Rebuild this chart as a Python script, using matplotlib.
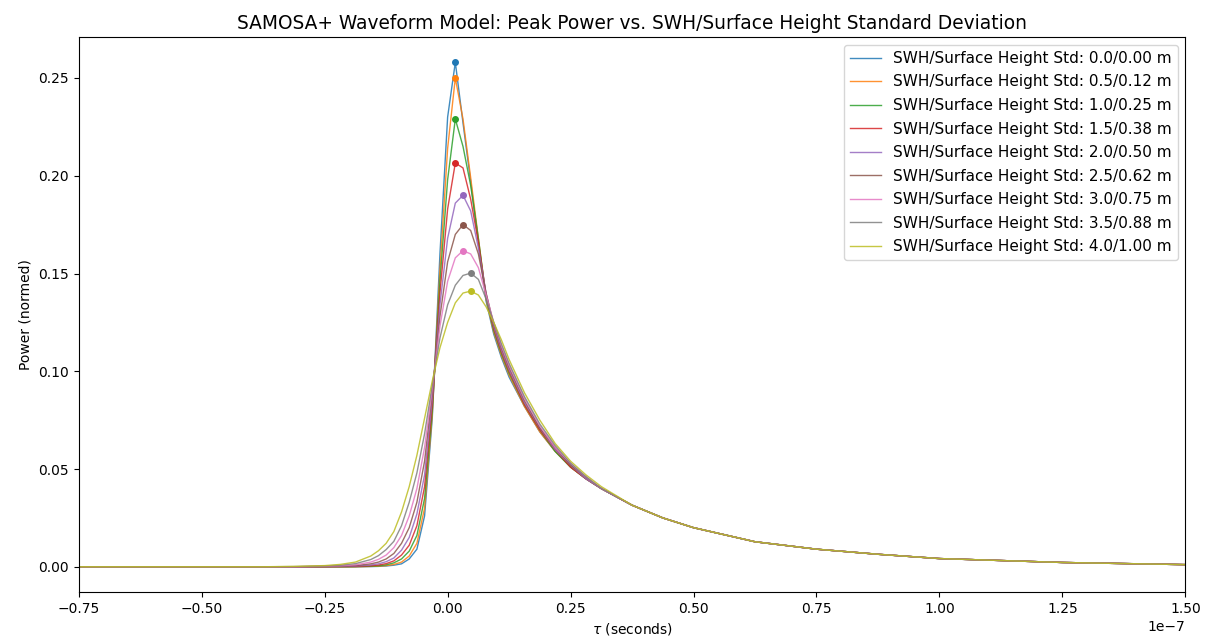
import numpy as np
import matplotlib
matplotlib.use('Agg')
import matplotlib.pyplot as plt

# delay axis (ns), sampled on the 1.5625 ns grid near the leading edge
tau_ns = [-75, -37.5, -31.25, -25, -21.875, -18.75, -15.625, -14.0625, -12.5,
          -10.9375, -9.375, -7.8125, -6.25, -4.6875, -3.125, -1.5625, 0,
          1.5625, 3.125, 4.6875, 6.25, 7.8125, 9.375, 10.9375, 12.5, 15.625,
          18.75, 21.875, 25, 28.125, 31.25,
          37.5, 43.75, 50, 62.5, 75, 87.5, 100, 125, 150]

swh = [0.0, 0.5, 1.0, 1.5, 2.0, 2.5, 3.0, 3.5, 4.0]
surf_std = [0.00, 0.12, 0.25, 0.38, 0.50, 0.62, 0.75, 0.88, 1.00]

# leading edge + peak + early trailing edge (tau from -75 to 31.25 ns)
p_swh00 = [0, 0, 0, 0, 0, 0, 0.0001, 0.0002, 0.0004, 0.0008, 0.0015, 0.004,
           0.009, 0.026, 0.076, 0.160, 0.230, 0.258, 0.227, 0.197, 0.166,
           0.136, 0.119, 0.107, 0.097, 0.082, 0.069, 0.059, 0.051, 0.045, 0.040]
p_swh05 = [0, 0, 0, 0, 0, 0, 0.0002, 0.0003, 0.0006, 0.0012, 0.0024, 0.0055,
           0.012, 0.030, 0.078, 0.152, 0.214, 0.250, 0.229, 0.199, 0.168,
           0.137, 0.120, 0.108, 0.098, 0.082, 0.069, 0.059, 0.051, 0.045, 0.040]
p_swh10 = [0, 0, 0, 0, 0, 0.0001, 0.0003, 0.0005, 0.0010, 0.0020, 0.0040, 0.008,
           0.016, 0.035, 0.080, 0.146, 0.198, 0.229, 0.215, 0.195, 0.168,
           0.138, 0.121, 0.109, 0.099, 0.083, 0.070, 0.059, 0.051, 0.045, 0.040]
p_swh15 = [0, 0, 0, 0, 0.0001, 0.0002, 0.0005, 0.0009, 0.0016, 0.0030, 0.0060, 0.011,
           0.021, 0.041, 0.083, 0.140, 0.183, 0.2065, 0.204, 0.188, 0.166,
           0.139, 0.122, 0.110, 0.100, 0.083, 0.070, 0.060, 0.051, 0.045, 0.040]
p_swh20 = [0, 0, 0, 0.0001, 0.0002, 0.0004, 0.0009, 0.0015, 0.0026, 0.0045, 0.0085, 0.015,
           0.027, 0.047, 0.086, 0.134, 0.168, 0.186, 0.190, 0.182, 0.163,
           0.140, 0.123, 0.111, 0.101, 0.084, 0.071, 0.060, 0.052, 0.045, 0.040]
p_swh25 = [0, 0, 0, 0.0002, 0.0003, 0.0006, 0.0015, 0.0024, 0.0040, 0.0068, 0.012, 0.020,
           0.033, 0.054, 0.089, 0.128, 0.156, 0.170, 0.175, 0.172, 0.160,
           0.140, 0.124, 0.112, 0.102, 0.085, 0.071, 0.061, 0.052, 0.046, 0.040]
p_swh30 = [0, 0, 0, 0.0003, 0.0005, 0.0010, 0.0024, 0.0038, 0.0060, 0.0098, 0.016, 0.026,
           0.040, 0.061, 0.091, 0.123, 0.146, 0.158, 0.1617, 0.160, 0.153,
           0.139, 0.125, 0.113, 0.103, 0.086, 0.072, 0.061, 0.053, 0.046, 0.040]
p_swh35 = [0, 0, 0.0001, 0.0004, 0.0008, 0.0016, 0.0037, 0.0057, 0.0088, 0.013, 0.021, 0.033,
           0.048, 0.068, 0.093, 0.117, 0.134, 0.144, 0.149, 0.1502, 0.147,
           0.137, 0.125, 0.114, 0.104, 0.087, 0.073, 0.062, 0.053, 0.046, 0.040]
p_swh40 = [0, 0, 0.0002, 0.0006, 0.0012, 0.0024, 0.0055, 0.0082, 0.012, 0.018, 0.028, 0.041,
           0.057, 0.076, 0.095, 0.112, 0.125, 0.135, 0.140, 0.141, 0.139,
           0.133, 0.125, 0.116, 0.106, 0.089, 0.075, 0.063, 0.054, 0.047, 0.041]

# trailing tail (37.5 ns onwards), all curves coincide here
p_tail = [0.0315, 0.025, 0.020, 0.0128, 0.0090, 0.0064, 0.0042, 0.0022, 0.0011]

waveforms = [p_swh00, p_swh05, p_swh10, p_swh15, p_swh20,
             p_swh25, p_swh30, p_swh35, p_swh40]

tau = np.array(tau_ns) * 1e-9

fig, ax = plt.subplots(figsize=(12.12, 6.4), dpi=100)
colors = plt.rcParams['axes.prop_cycle'].by_key()['color']

for i, wf in enumerate(waveforms):
    p = np.array(wf + p_tail)
    c = colors[i % len(colors)]
    ax.plot(tau, p, color=c, lw=1.0, alpha=0.85,
            label='SWH/Surface Height Std: %.1f/%.2f m' % (swh[i], surf_std[i]))
    # mark the peak of each waveform
    j = np.argmax(p)
    ax.plot(tau[j], p[j], 'o', color=c, ms=4)

ax.set_xlim(-0.75e-7, 1.5e-7)
ax.set_xlabel(r'$\tau$ (seconds)')
ax.set_ylabel('Power (normed)')
ax.set_title('SAMOSA+ Waveform Model: Peak Power vs. SWH/Surface Height Standard Deviation',
             fontsize=13.4)
ax.legend(loc='upper right', fontsize=11, labelspacing=0.56)

fig.subplots_adjust(left=0.065, right=0.978, top=0.942, bottom=0.075)
fig.savefig('out.png', dpi=100)
